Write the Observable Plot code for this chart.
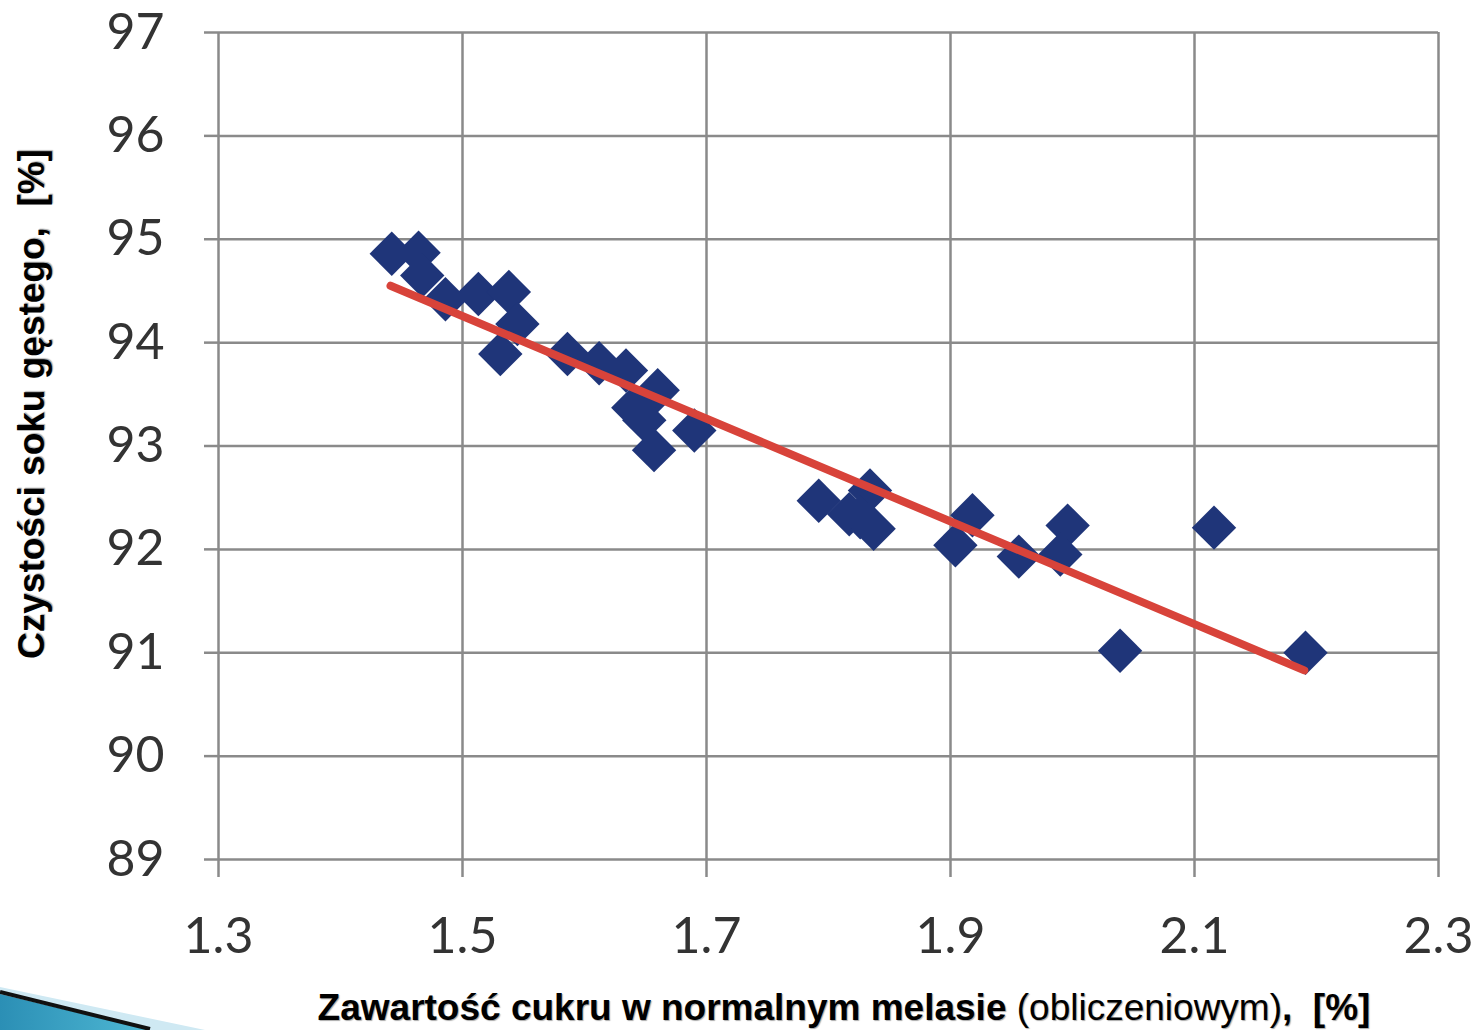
<!DOCTYPE html>
<html><head><meta charset="utf-8">
<script src="https://cdn.jsdelivr.net/npm/d3@7"></script>
<script src="https://cdn.jsdelivr.net/npm/@observablehq/plot@0.6"></script>
<style>
body{margin:0;background:#fff;width:1478px;height:1030px;position:relative;overflow:hidden;font-family:Arial,"Liberation Sans",sans-serif;}
#chart{position:absolute;left:0;top:0;}
.ytitle{position:absolute;left:32px;top:404px;transform:translate(-50%,-50%) rotate(-90deg);white-space:nowrap;font-weight:bold;font-size:37px;color:#000;text-shadow:1px 1px 1px #aaa;}
.xtitle{position:absolute;left:844px;top:1008px;transform:translate(-50%,-50%);white-space:nowrap;font-size:37px;color:#000;text-shadow:1px 1px 1px #aaa;}
.xtitle b{font-weight:bold;}
#deco{position:absolute;left:0;top:0;}
</style></head>
<body>
<div id="chart"></div>
<div class="ytitle">Czystości soku gęstego,&nbsp; [%]</div>
<div class="xtitle"><b>Zawartość cukru w normalnym melasie</b> (obliczeniowym)<b>,&nbsp; [%]</b></div>
<svg id="deco" width="1478" height="1030">
  <defs><linearGradient id="g" x1="0" y1="0" x2="1" y2="0"><stop offset="0" stop-color="#2b8fb5"/><stop offset="1" stop-color="#4fb8d4"/></linearGradient></defs>
  <polygon points="0,987 205,1030 0,1030" fill="#cfe9f3"/>
  <polygon points="0,994 150,1030 0,1030" fill="url(#g)"/>
  <line x1="0" y1="992" x2="150" y2="1029" stroke="#111" stroke-width="4"/>
</svg>
<script>
const sugar = [1.442,1.464,1.467,1.486,1.513,1.538,1.545,1.531,1.586,1.612,1.634,1.660,1.640,1.649,1.657,1.690,1.792,1.817,1.834,1.826,1.837,1.918,1.904,1.956,1.996,1.990,2.116,2.039,2.191];
const purity = [94.86,94.87,94.65,94.42,94.47,94.49,94.18,93.89,93.89,93.80,93.73,93.54,93.37,93.25,92.96,93.15,92.47,92.34,92.57,92.31,92.20,92.33,92.04,91.93,92.23,91.95,92.21,91.02,91.00];
const trendX = [1.441, 2.19];
const trendY = [94.55, 90.83];
const xTicks = [1.3,1.5,1.7,1.9,2.1,2.3];
const yTicks = [89,90,91,92,93,94,95,96,97];

const pts = sugar.map((x,i)=>({x, y: purity[i]}));
const trend = trendX.map((x,i)=>({x, y: trendY[i]}));

const chart = Plot.plot({
  width: 1478,
  height: 975,
  marginLeft: 218,
  marginRight: 40,
  marginTop: 32,
  marginBottom: 116,
  style: {fontFamily: "Lato, 'Open Sans', sans-serif", fontSize: "50px", color: "#333", background: "transparent", overflow: "visible"},
  x: {domain: [1.3, 2.3], ticks: xTicks, tickFormat: d => d.toFixed(1)},
  y: {domain: [89, 97], ticks: yTicks, tickFormat: d => String(d)},
  marks: [
    Plot.gridX(xTicks, {stroke: "#8a8a8a", strokeOpacity: 1, strokeWidth: 2.5}),
    Plot.gridY(yTicks, {stroke: "#8a8a8a", strokeOpacity: 1, strokeWidth: 2.5}),
    Plot.axisX(xTicks, {tickSize: 18, tickPadding: 40, stroke: "#8a8a8a", strokeWidth: 2.5, fill: "#333", tickFormat: d => d.toFixed(1), label: null}),
    Plot.axisY(yTicks, {tickSize: 14, tickPadding: 40, stroke: "#8a8a8a", strokeWidth: 2.5, fill: "#333", tickFormat: d => String(d), label: null}),
    Plot.dot(pts, {x: "x", y: "y", symbol: "diamond2", r: 20, fill: "#1f3579", stroke: "none"}),
    Plot.line(trend, {x: "x", y: "y", stroke: "#d8433a", strokeWidth: 8, strokeLinecap: "round"})
  ]
});
document.getElementById("chart").appendChild(chart);
</script>
</body></html>
